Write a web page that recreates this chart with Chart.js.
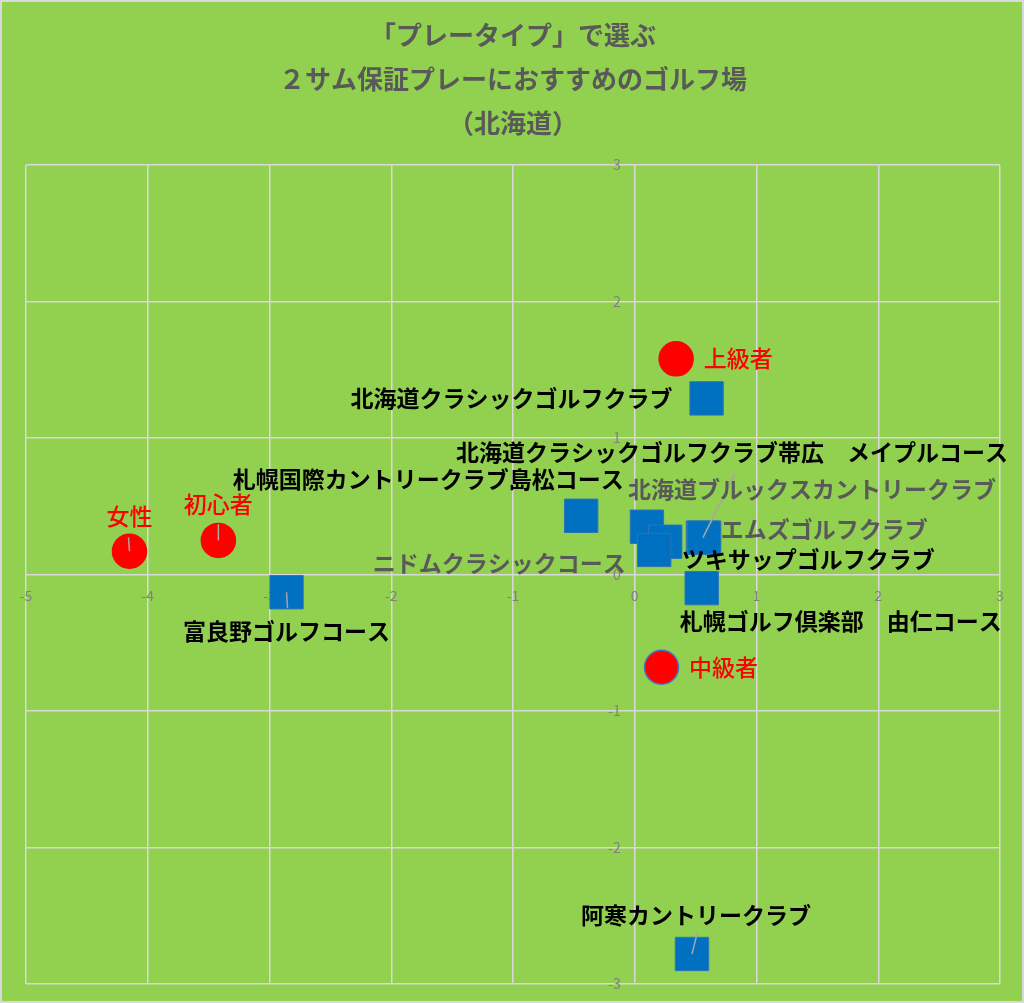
<!DOCTYPE html>
<html><head><meta charset="utf-8">
<script src="https://cdn.jsdelivr.net/npm/chart.js@4.4.0/dist/chart.umd.min.js"></script>
<style>html,body{margin:0;padding:0;background:#92D050;overflow:hidden}
#wrap{width:1024px;height:1003px;position:relative}</style>
</head><body><div id="wrap"><canvas id="c" width="1024" height="1003"></canvas></div>
<script>
const titleLines = ["「プレータイプ」で選ぶ", "２サム保証プレーにおすすめのゴルフ場", "（北海道）"];
const xTicks = [-5, -4, -3, -2, -1, 0, 1, 2, 3];
const yTicks = [-3, -2, -1, 0, 1, 2, 3];

const courseNames = [
  "北海道クラシックゴルフクラブ",
  "北海道クラシックゴルフクラブ帯広　メイプルコース",
  "札幌国際カントリークラブ島松コース",
  "北海道ブルックスカントリークラブ",
  "ツキサップゴルフクラブ",
  "ニドムクラシックコース",
  "エムズゴルフクラブ",
  "札幌ゴルフ倶楽部　由仁コース",
  "富良野ゴルフコース",
  "阿寒カントリークラブ"
];
const courseX = [0.59, 0.56, -0.44, 0.10, 0.25, 0.16, 0.57, 0.55, -2.86, 0.47];
const courseY = [1.29, 0.27, 0.43, 0.35, 0.24, 0.18, 0.27, -0.10, -0.13, -2.78];

const typeNames = ["上級者", "中級者", "初心者", "女性"];
const typeX = [0.34, 0.22, -3.42, -4.15];
const typeY = [1.58, -0.68, 0.25, 0.17];

// label layout (pixel offsets of label centre from the point) and styles
const courseLabelDX = [-195, 29, -153, 165, 143, -155, 120, 139, 0, 4];
const courseLabelDY = [0, -85, -37, -37, 18, 13, -8, 33, 39, -39];
const courseLabelColor = ["#000","#000","#000","#595959","#000","#595959","#595959","#000","#000","#000"];
const courseLeaderDX = [null, 32, null, null, null, null, null, null, 1, 5];
const courseLeaderDY = [null, -64, null, null, null, null, null, null, 16, -20];
const typeLabelDX = [62, 62, 0, 0];
const typeLabelDY = [-1, 0, -36, -35];
const typeLeaderDX = [null, null, 0, -1];
const typeLeaderDY = [null, null, -16, -14];

const FONT = "'Noto Sans CJK JP', 'Noto Sans', sans-serif";

const bgPlugin = {
  id: 'bg',
  beforeDraw(chart) {
    const ctx = chart.ctx;
    ctx.save();
    ctx.fillStyle = '#92D050';
    ctx.fillRect(0, 0, chart.width, chart.height);
    ctx.strokeStyle = '#D9D9D9';
    ctx.lineWidth = 2;
    ctx.strokeRect(1, 1, chart.width - 2, chart.height - 2);
    ctx.restore();
  }
};

const labelPlugin = {
  id: 'pointLabels',
  afterDatasetsDraw(chart) {
    const ctx = chart.ctx;
    ctx.save();
    const sets = [
      {meta: chart.getDatasetMeta(0), names: courseNames, dx: courseLabelDX, dy: courseLabelDY, lx: courseLeaderDX, ly: courseLeaderDY, color: courseLabelColor, weight: 'bold'},
      {meta: chart.getDatasetMeta(1), names: typeNames, dx: typeLabelDX, dy: typeLabelDY, lx: typeLeaderDX, ly: typeLeaderDY, color: typeNames.map(() => '#FF0000'), weight: '500'}
    ];
    sets.forEach(s => {
      s.meta.data.forEach((pt, i) => {
        if (s.lx[i] !== null) {
          ctx.strokeStyle = '#A6A6A6';
          ctx.lineWidth = 1.5;
          ctx.beginPath();
          ctx.moveTo(pt.x, pt.y);
          ctx.lineTo(pt.x + s.lx[i], pt.y + s.ly[i]);
          ctx.stroke();
        }
      });
    });
    sets.forEach(s => {
      s.meta.data.forEach((pt, i) => {
        ctx.font = s.weight + ' 23px ' + FONT;
        ctx.fillStyle = s.color[i];
        ctx.textAlign = 'center';
        ctx.textBaseline = 'middle';
        ctx.fillText(s.names[i], pt.x + s.dx[i], pt.y + s.dy[i]);
      });
    });
    ctx.restore();
  }
};

new Chart(document.getElementById('c'), {
  type: 'scatter',
  data: {
    datasets: [
      {
        label: 'ゴルフ場',
        data: courseX.map((x, i) => ({x, y: courseY[i]})),
        pointStyle: 'rect',
        pointRadius: 23.6,
        pointHoverRadius: 23.6,
        backgroundColor: '#0070C0',
        borderColor: '#2E75B6',
        borderWidth: 1
      },
      {
        label: 'プレータイプ',
        data: typeX.map((x, i) => ({x, y: typeY[i]})),
        pointStyle: 'circle',
        pointRadius: 17,
        pointHoverRadius: 17,
        backgroundColor: '#FF0000',
        borderColor: ['#FF0000', '#4472C4', '#FF0000', '#FF0000'],
        borderWidth: 1.5
      }
    ]
  },
  options: {
    responsive: false,
    animation: false,
    events: [],
    layout: {autoPadding: false, padding: {left: 26, right: 24, bottom: 19, top: 0}},
    plugins: {
      legend: {display: false},
      tooltip: {enabled: false},
      title: {
        display: true,
        text: titleLines,
        color: '#595959',
        font: {family: FONT, size: 26, weight: 'bold', lineHeight: 44 / 26},
        padding: {top: 13, bottom: 20}
      }
    },
    scales: {
      x: {
        type: 'linear',
        min: -5, max: 3,
        position: {y: 0},
        afterBuildTicks: s => { s.ticks = xTicks.map(v => ({value: v})); },
        ticks: {color: '#808080', font: {family: FONT, size: 14}, padding: 13},
        grid: {color: '#D9D9D9', lineWidth: 1.5, drawTicks: false},
        border: {display: false}
      },
      y: {
        type: 'linear',
        min: -3, max: 3,
        position: {x: 0},
        afterBuildTicks: s => { s.ticks = yTicks.map(v => ({value: v})); },
        ticks: {color: '#808080', font: {family: FONT, size: 14}, callback: v => v + '\u2003'},
        grid: {color: '#D9D9D9', lineWidth: 1.5, drawTicks: false},
        border: {display: false}
      }
    }
  },
  plugins: [bgPlugin, labelPlugin]
});
</script></body></html>
